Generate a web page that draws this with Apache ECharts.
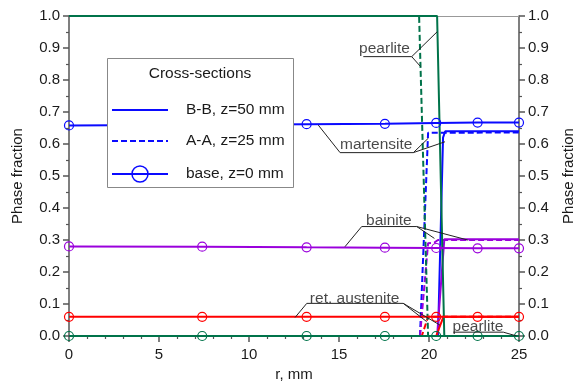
<!DOCTYPE html>
<html>
<head>
<meta charset="utf-8">
<script src="https://cdn.jsdelivr.net/npm/echarts@6/dist/echarts.min.js"></script>
<style>
html,body{margin:0;padding:0;background:#fff;}
#chart{width:574px;height:387px;}
</style>
</head>
<body>
<div id="chart"></div>
<script>
// ---------- data ----------
const xTicks = [0, 5, 10, 15, 20, 25];
const yTicks = [0, 0.1, 0.2, 0.3, 0.4, 0.5, 0.6, 0.7, 0.8, 0.9, 1.0];

// base, z=0 mm (markers)
const baseX = [0, 7.4, 13.2, 17.55, 20.4, 22.7, 25];
const baseMartensite = [0.658, 0.660, 0.662, 0.663, 0.666, 0.667, 0.667];
const baseBainite = [0.280, 0.279, 0.277, 0.276, 0.275, 0.274, 0.274];
const baseRetAustenite = [0.060, 0.060, 0.060, 0.060, 0.060, 0.060, 0.060];
const basePearlite = [0, 0, 0, 0, 0, 0, 0];

// B-B, z=50 mm (solid)
const bbPearlite = [[0, 1], [20.45, 1], [20.85, 0], [25, 0]];
const bbMartensite = [[0, 0], [20.5, 0], [20.78, 0.62], [20.9, 0.64], [25, 0.64]];
const bbBainite = [[0, 0], [20.45, 0], [20.85, 0.302], [25, 0.302]];
const bbRetAustenite = [[0, 0], [20.4, 0], [20.8, 0.06], [25, 0.06]];

// A-A, z=25 mm (dashed)
const aaPearlite = [[0, 1], [19.45, 1], [19.95, 0], [25, 0]];
const aaMartensite = [[0, 0], [19.5, 0], [19.95, 0.635], [25, 0.636]];
const aaBainite = [[0, 0], [19.5, 0], [19.95, 0.29], [20.3, 0.292], [20.5, 0.30], [25, 0.30]];
const aaRetAustenite = [[0, 0], [19.6, 0], [19.95, 0.06], [25, 0.06]];

// annotations
const annotLabels = ['pearlite', 'martensite', 'bainite', 'ret. austenite', 'pearlite'];
const annotTextPos = [[17.53, 0.898], [17.07, 0.597], [17.77, 0.361], [15.87, 0.116], [22.72, 0.029]];
const annotLeaders = [
  [[16.35, 0.873], [19.04, 0.873], [19.53, 0.842]],
  [[19.04, 0.873], [20.46, 0.951]],
  [[13.85, 0.659], [15.06, 0.573], [19.13, 0.573], [19.96, 0.618]],
  [[19.13, 0.573], [20.89, 0.607]],
  [[15.33, 0.279], [16.26, 0.342], [19.32, 0.342], [20.3, 0.305]],
  [[19.32, 0.342], [22.15, 0.300]],
  [[12.56, 0.058], [13.21, 0.102], [18.57, 0.102], [19.87, 0.045]],
  [[18.57, 0.102], [20.61, 0.034]],
  [[21.35, 0.012], [24.13, 0.012], [24.87, 0.0]]
];

const legendTitle = 'Cross-sections';
const legendNames = ['B-B, z=50 mm', 'A-A, z=25 mm', 'base, z=0 mm'];

// ---------- styles ----------
const BLUE = '#0a0aff', PURPLE = '#9a00dc', RED = '#ff0000', GREEN = '#00734a';
const FONT = "'Liberation Sans', Arial, sans-serif";
const TXT = '#1a1a1a';
const AX = '#555';

function pairs(xs, ys) { return xs.map((x, i) => [x, ys[i]]); }

function solid(data, color) {
  return { type: 'line', data, showSymbol: false, symbol: 'none', silent: true,
    lineStyle: { color, width: 2 }, animation: false, z: 3 };
}
function dashed(data, color) {
  return { type: 'line', data, showSymbol: false, symbol: 'none', silent: true,
    lineStyle: { color, width: 2, type: [6, 3] }, animation: false, z: 2 };
}
function base(ys, color) {
  return { type: 'line', data: pairs(baseX, ys), symbol: 'circle', symbolSize: 9,
    showSymbol: true, silent: true, clip: false,
    itemStyle: { color: 'rgba(0,0,0,0)', borderColor: color, borderWidth: 1.2 },
    lineStyle: { color, width: 2 }, animation: false, z: 4 };
}

const series = [
  dashed(aaMartensite, BLUE), dashed(aaBainite, PURPLE), dashed(aaRetAustenite, RED), dashed(aaPearlite, GREEN),
  solid(bbMartensite, BLUE), solid(bbBainite, PURPLE), solid(bbRetAustenite, RED), solid(bbPearlite, GREEN),
  base(baseMartensite, BLUE), base(baseBainite, PURPLE), base(baseRetAustenite, RED), base(basePearlite, GREEN)
];

annotLeaders.forEach(pts => {
  series.push({ type: 'line', data: pts, symbol: 'none', silent: true, animation: false, z: 6,
    lineStyle: { color: '#222', width: 1 } });
});
series.push({
  type: 'scatter', symbolSize: 0, silent: true, animation: false, z: 7,
  data: annotTextPos.map((p, i) => ({ name: annotLabels[i], value: p })),
  label: { show: true, position: 'inside', formatter: p => p.name,
    fontFamily: FONT, fontSize: 15.5, color: TXT }
});

const yLabel = { fontFamily: FONT, fontSize: 15, color: TXT, margin: 9,
  formatter: v => (Math.round(v * 10) / 10).toFixed(1) };

const option = {
  backgroundColor: '#fff',
  animation: false,
  grid: { left: 69, right: 55, top: 16, bottom: 51, containLabel: false, outerBoundsMode: 'none' },
  xAxis: [{
    type: 'value', min: xTicks[0], max: xTicks[xTicks.length - 1], interval: 5,
    position: 'bottom',
    name: 'r, mm', nameLocation: 'middle', nameGap: 29,
    nameTextStyle: { fontFamily: FONT, fontSize: 15, color: TXT },
    axisLine: { show: true, onZero: false, lineStyle: { color: AX, width: 1.5 } },
    axisTick: { show: true, length: 6, lineStyle: { color: AX, width: 1.5 } },
    minorTick: { show: true, splitNumber: 5, length: 3, lineStyle: { color: AX, width: 1.2 } },
    splitLine: { show: false },
    axisLabel: { fontFamily: FONT, fontSize: 15, color: TXT, margin: 11 }
  }, {
    type: 'value', min: 0, max: 25, position: 'top',
    axisLine: { show: true, onZero: false, lineStyle: { color: '#999', width: 1 } },
    axisTick: { show: false }, axisLabel: { show: false }, splitLine: { show: false }
  }],
  yAxis: [{
    type: 'value', min: yTicks[0], max: yTicks[yTicks.length - 1], interval: 0.1,
    position: 'left',
    name: 'Phase fraction', nameLocation: 'middle', nameGap: 44, nameRotate: 90,
    nameTextStyle: { fontFamily: FONT, fontSize: 15, color: TXT },
    axisLine: { show: true, onZero: false, lineStyle: { color: AX, width: 1.5 } },
    axisTick: { show: true, length: 6, lineStyle: { color: AX, width: 1.5 } },
    minorTick: { show: true, splitNumber: 2, length: 3, lineStyle: { color: AX, width: 1.2 } },
    splitLine: { show: false },
    axisLabel: yLabel
  }, {
    type: 'value', min: yTicks[0], max: yTicks[yTicks.length - 1], interval: 0.1,
    position: 'right',
    name: 'Phase fraction', nameLocation: 'middle', nameGap: 42, nameRotate: 90,
    nameTextStyle: { fontFamily: FONT, fontSize: 15, color: TXT },
    axisLine: { show: true, onZero: false, lineStyle: { color: AX, width: 1.5 } },
    axisTick: { show: true, length: 6, lineStyle: { color: AX, width: 1.5 } },
    minorTick: { show: true, splitNumber: 2, length: 3, lineStyle: { color: AX, width: 1.2 } },
    splitLine: { show: false },
    axisLabel: yLabel
  }],
  series,
  graphic: [
    { type: 'rect', z: 100, shape: { x: 107.5, y: 58.5, width: 186, height: 129 },
      style: { fill: '#fff', stroke: '#888', lineWidth: 1 } },
    { type: 'text', z: 101, x: 200, y: 74,
      style: { text: legendTitle, font: "15.5px 'Liberation Sans', Arial, sans-serif", fill: TXT,
        textAlign: 'center', textVerticalAlign: 'middle' } },
    { type: 'line', z: 101, shape: { x1: 112, y1: 110, x2: 168, y2: 110 },
      style: { stroke: BLUE, lineWidth: 2 } },
    { type: 'line', z: 101, shape: { x1: 112, y1: 141, x2: 168, y2: 141 },
      style: { stroke: BLUE, lineWidth: 2, lineDash: [6, 3] } },
    { type: 'line', z: 101, shape: { x1: 112, y1: 174, x2: 168, y2: 174 },
      style: { stroke: BLUE, lineWidth: 2 } },
    { type: 'circle', z: 102, shape: { cx: 140, cy: 174, r: 8 },
      style: { fill: 'rgba(255,255,255,0)', stroke: BLUE, lineWidth: 1.5 } },
    { type: 'text', z: 101, x: 186, y: 110,
      style: { text: legendNames[0], font: "15.5px 'Liberation Sans', Arial, sans-serif", fill: TXT,
        textAlign: 'left', textVerticalAlign: 'middle' } },
    { type: 'text', z: 101, x: 186, y: 141,
      style: { text: legendNames[1], font: "15.5px 'Liberation Sans', Arial, sans-serif", fill: TXT,
        textAlign: 'left', textVerticalAlign: 'middle' } },
    { type: 'text', z: 101, x: 186, y: 174,
      style: { text: legendNames[2], font: "15.5px 'Liberation Sans', Arial, sans-serif", fill: TXT,
        textAlign: 'left', textVerticalAlign: 'middle' } }
  ]
};

const chart = echarts.init(document.getElementById('chart'), null, { renderer: 'canvas' });
chart.setOption(option);
</script>
</body>
</html>
